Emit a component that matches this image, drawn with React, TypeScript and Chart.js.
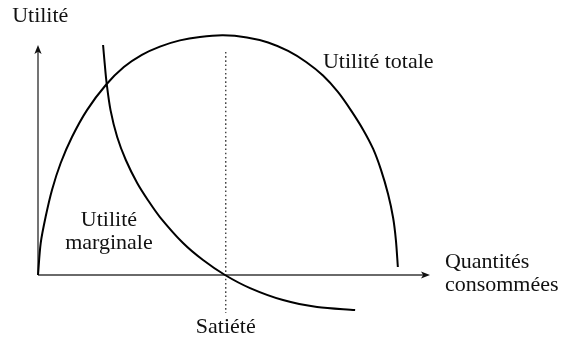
import React, { useEffect, useRef } from "react";
import { Chart, registerables } from "chart.js";

Chart.register(...registerables);

// Total utility curve (quantity, utility)
const totalX = [0, 0.069, 0.196, 0.357, 0.579, 0.867, 1.25, 1.73, 2.19, 2.65, 3.11, 3.62, 4.13, 4.72, 5.33, 5.87, 6.38, 6.84, 7.27, 7.65, 7.98, 8.29, 8.55, 8.75, 8.93, 9.06, 9.13, 9.18];
const totalY = [0, 1.39, 2.54, 3.7, 4.87, 6.0, 7.17, 8.26, 9.04, 9.57, 9.93, 10.2, 10.35, 10.42, 10.33, 10.11, 9.74, 9.26, 8.67, 7.96, 7.17, 6.33, 5.48, 4.57, 3.52, 2.48, 1.52, 0.35];

// Marginal utility curve
const marginalX = [1.66, 1.7, 1.75, 1.85, 2.02, 2.24, 2.53, 2.81, 3.11, 3.7, 4.21, 4.77, 5.41, 6.25, 7.12, 8.09];
const marginalY = [10.0, 9.22, 8.35, 7.17, 6.0, 5.0, 4.0, 3.24, 2.52, 1.39, 0.65, 0, -0.57, -1.09, -1.39, -1.52];

// Satiation point
const satiationX = 4.79;
const satiationTop = 9.7;
const satiationBottom = -1.65;

// Axis extents
const axisMaxX = 10;
const axisMaxY = 10;

// Texts
const yAxisTitle = "Utilité";
const xAxisTitle = ["Quantités", "consommées"];
const totalLabel = "Utilité totale";
const marginalLabel = ["Utilité", "marginale"];
const satiationLabel = "Satiété";

const FONT = "22px 'Liberation Serif', 'Times New Roman', serif";

function arrowHead(ctx: CanvasRenderingContext2D, x: number, y: number, dir: "up" | "right") {
  const L = 9;
  const W = 3.6;
  const notch = 2.2;
  ctx.beginPath();
  if (dir === "right") {
    ctx.moveTo(x, y);
    ctx.lineTo(x - L, y - W);
    ctx.lineTo(x - L + notch, y);
    ctx.lineTo(x - L, y + W);
  } else {
    ctx.moveTo(x, y);
    ctx.lineTo(x - W, y + L);
    ctx.lineTo(x, y + L - notch);
    ctx.lineTo(x + W, y + L);
  }
  ctx.closePath();
  ctx.fill();
}

const decorPlugin = {
  id: "decor",
  beforeDatasetsDraw(chart: any) {
    const ctx = chart.ctx as CanvasRenderingContext2D;
    const xs = chart.scales.x;
    const ys = chart.scales.y;
    const x0 = xs.getPixelForValue(0);
    const y0 = ys.getPixelForValue(0);
    const xEnd = xs.getPixelForValue(axisMaxX);
    const yEnd = ys.getPixelForValue(axisMaxY);
    ctx.save();
    ctx.strokeStyle = "#3a3a3a";
    ctx.fillStyle = "#111";
    ctx.lineWidth = 1.4;
    ctx.beginPath();
    ctx.moveTo(x0, y0);
    ctx.lineTo(xEnd - 4, y0);
    ctx.moveTo(x0, y0);
    ctx.lineTo(x0, yEnd + 4);
    ctx.stroke();
    arrowHead(ctx, xEnd, y0, "right");
    arrowHead(ctx, x0, yEnd, "up");

    // dotted satiation line
    const sx = xs.getPixelForValue(satiationX);
    ctx.strokeStyle = "#222";
    ctx.lineWidth = 1.2;
    ctx.setLineDash([1.6, 2.6]);
    ctx.beginPath();
    ctx.moveTo(sx, ys.getPixelForValue(satiationTop));
    ctx.lineTo(sx, ys.getPixelForValue(satiationBottom));
    ctx.stroke();
    ctx.restore();
  },
  afterDatasetsDraw(chart: any) {
    const ctx = chart.ctx as CanvasRenderingContext2D;
    const xs = chart.scales.x;
    const ys = chart.scales.y;
    const px = (v: number) => xs.getPixelForValue(v);
    const py = (v: number) => ys.getPixelForValue(v);
    ctx.save();
    ctx.font = FONT;
    ctx.fillStyle = "#111";
    ctx.textBaseline = "middle";

    ctx.textAlign = "left";
    ctx.fillText(yAxisTitle, px(-0.66), py(11.26));
    ctx.fillText(totalLabel, px(7.27), py(9.26));
    ctx.fillText(xAxisTitle[0], px(10.38), py(0.57));
    ctx.fillText(xAxisTitle[1], px(10.38), py(-0.43));

    ctx.textAlign = "center";
    ctx.fillText(marginalLabel[0], px(1.81), py(2.39));
    ctx.fillText(marginalLabel[1], px(1.81), py(1.39));
    ctx.fillText(satiationLabel, px(satiationX), py(-2.26));
    ctx.restore();
  },
};

export default function App() {
  const ref = useRef<HTMLCanvasElement | null>(null);
  useEffect(() => {
    if (!ref.current) return;
    const chart = new Chart(ref.current, {
      type: "scatter",
      data: {
        datasets: [
          {
            label: "Utilité totale",
            data: totalX.map((x, i) => ({ x, y: totalY[i] })),
            showLine: true,
            borderColor: "#000",
            borderWidth: 2,
            pointRadius: 0,
            tension: 0.3,
            clip: false as any,
          },
          {
            label: "Utilité marginale",
            data: marginalX.map((x, i) => ({ x, y: marginalY[i] })),
            showLine: true,
            borderColor: "#000",
            borderWidth: 2,
            pointRadius: 0,
            tension: 0.3,
            clip: false as any,
          },
        ],
      },
      options: {
        animation: false,
        responsive: false,
        devicePixelRatio: 1,
        layout: { padding: { left: 38, right: 138, top: 45, bottom: 64 } },
        scales: {
          x: { type: "linear", min: 0, max: axisMaxX, display: false },
          y: { type: "linear", min: 0, max: axisMaxY, display: false },
        },
        plugins: {
          legend: { display: false },
          tooltip: { enabled: false },
        },
      },
      plugins: [decorPlugin],
    });
    return () => chart.destroy();
  }, []);
  return (
    <div style={{ position: "absolute", left: 0, top: 0, width: 568, height: 339, background: "#fff" }}>
      <canvas ref={ref} width={568} height={339} style={{ display: "block" }} />
    </div>
  );
}
